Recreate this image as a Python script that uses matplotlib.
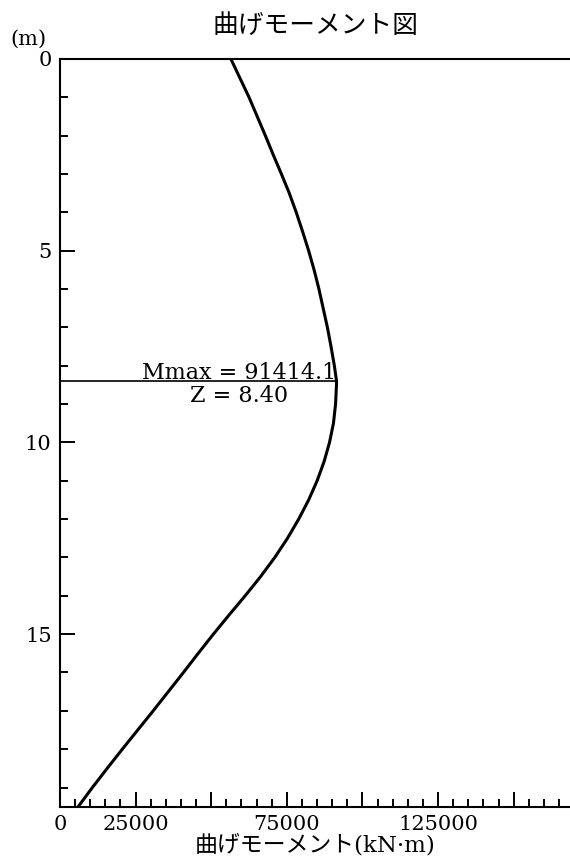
import numpy as np
import matplotlib
matplotlib.use("Agg")
import matplotlib.pyplot as plt
from matplotlib.ticker import MultipleLocator, FixedLocator, FixedFormatter

plt.rcParams["font.family"] = ["DejaVu Serif", "Noto Sans CJK JP"]

# depth (m) and bending moment (kN·m)
depth = [0, 0.5, 1, 1.5, 2, 2.5, 3, 3.5, 4, 4.5, 5, 5.5, 6, 6.5, 7, 7.5, 8, 8.4,
         8.5, 9, 9.5, 10, 10.5, 11, 11.5, 12, 12.5, 13, 13.5, 14, 14.5, 15, 15.5,
         16, 16.5, 17, 17.5, 18, 18.5, 19, 19.5]
moment = [56500, 59500, 62500, 65200, 67900, 70500, 73200, 75800, 78100, 80200,
          82200, 84000, 85600, 87000, 88400, 89600, 90700, 91414.1,
          91400, 91100, 90400, 89100, 87300, 85000, 82200, 78900, 75200, 71000,
          66300, 61200, 55900, 50700, 45700, 40800, 35800, 30800, 25700, 20600,
          15600, 10700, 6000]

mmax = 91414.1
z_mmax = 8.40

xtick_vals = [0, 25000, 50000, 75000, 100000, 125000, 150000]
xtick_labels = ["0", "25000", "", "75000", "", "125000", ""]
ytick_vals = [0, 5, 10, 15]

fig = plt.figure(figsize=(5.70, 8.61), dpi=100)
ax = fig.add_axes([60 / 570, 1 - 806.7 / 861, 510 / 570, (806.7 - 59) / 861])

ax.plot(moment, depth, color="black", lw=2.2, solid_joinstyle="round")
ax.plot([0, mmax], [z_mmax, z_mmax], color="black", lw=1.2)
ax.annotate(f"Mmax = {mmax:.1f}\nZ = {z_mmax:.2f}", xy=(mmax, z_mmax),
            xytext=(0, -21), textcoords="offset pixels",
            ha="right", va="baseline", multialignment="center",
            linespacing=1.05, fontsize=16)

ax.set_xlim(0, 168600)
ax.set_ylim(19.5, 0)

ax.xaxis.set_major_locator(FixedLocator(xtick_vals))
ax.xaxis.set_major_formatter(FixedFormatter(xtick_labels))
ax.xaxis.set_minor_locator(MultipleLocator(5000))
ax.yaxis.set_major_locator(FixedLocator(ytick_vals))
ax.yaxis.set_minor_locator(MultipleLocator(1))

ax.tick_params(which="both", direction="in", width=1.4, labelsize=15,
               top=False, right=False)
ax.tick_params(which="major", length=11)
ax.tick_params(which="minor", length=5.5)
ax.tick_params(axis="x", which="major", pad=6)
ax.tick_params(axis="y", which="major", pad=6)

for side in ["left", "bottom", "top"]:
    ax.spines[side].set_linewidth(1.5)
ax.spines["right"].set_visible(False)

ax.set_xlabel("曲げモーメント(kN·m)", fontsize=16.5, va="center")
ax.xaxis.set_label_coords(0.5, -0.0515)

fig.text(315 / 570, 1 - 25 / 861, "曲げモーメント図", ha="center", va="center", fontsize=18.5)
fig.text(28 / 570, 1 - 39 / 861, "(m)", ha="center", va="center", fontsize=15)

fig.savefig("out.png", dpi=100)
